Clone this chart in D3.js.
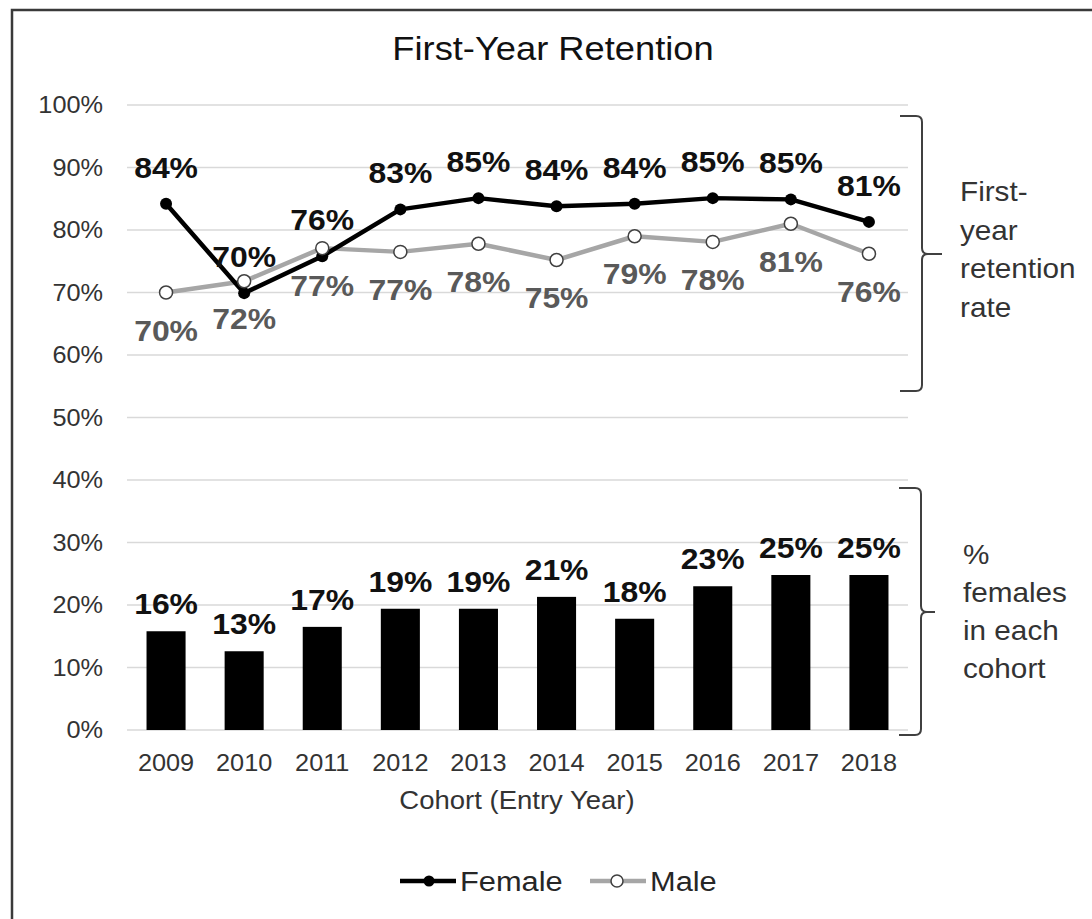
<!DOCTYPE html>
<html><head><meta charset="utf-8">
<script src="https://cdn.jsdelivr.net/npm/d3@7"></script>
<style>body{margin:0;background:#fff}svg{display:block}text{font-family:"Liberation Sans",Arial,sans-serif}</style>
</head><body>
<svg id="c" width="1092" height="919"></svg>
<script>
const years = ["2009","2010","2011","2012","2013","2014","2015","2016","2017","2018"];
const femaleRetention = [84.2, 69.9, 75.8, 83.3, 85.1, 83.8, 84.2, 85.1, 84.9, 81.3];
const maleRetention   = [70.0, 71.8, 77.1, 76.5, 77.8, 75.2, 79.0, 78.1, 81.0, 76.2];
const femaleShare     = [15.8, 12.6, 16.5, 19.4, 19.4, 21.3, 17.8, 23.0, 24.8, 24.8];
const yTicks = [0,10,20,30,40,50,60,70,80,90,100];
const legendItems = ["Female","Male"];

const SX = 1.1;
const svg = d3.select("#c");
const x = d3.scaleBand().domain(years).range([127, 908]).paddingInner(0.5).paddingOuter(0.25);
const xc = d => x(d) + x.bandwidth()/2;
const y = d3.scaleLinear().domain([0,100]).range([730, 105]);

function txt(px, py, s, o) {
  o = o || {};
  return svg.append("text")
    .attr("transform", `translate(${px},${py}) scale(${SX},1)`)
    .attr("text-anchor", o.anchor || "middle")
    .attr("font-size", o.size || 23)
    .attr("font-weight", o.weight || "normal")
    .attr("fill", o.fill || "#262626")
    .text(s);
}

// border
svg.append("rect").attr("x",12).attr("y",10).attr("width",1200).attr("height",1000)
  .attr("fill","none").attr("stroke","#3a3a3a").attr("stroke-width",2.5);

// gridlines
svg.append("g").selectAll("line").data(yTicks).join("line")
  .attr("x1",127).attr("x2",908).attr("y1",d=>y(d)).attr("y2",d=>y(d))
  .attr("stroke","#d9d9d9").attr("stroke-width",1.5);

// y tick labels
yTicks.forEach(d => txt(103, y(d)+8, d+"%", {anchor:"end", size:23, fill:"#333"}));

// title
txt(553, 60, "First-Year Retention", {size:33, fill:"#111"});

// bars
svg.append("g").selectAll("rect").data(femaleShare).join("rect")
  .attr("x",(d,i)=>x(years[i])).attr("width",x.bandwidth())
  .attr("y",d=>y(d)).attr("height",d=>y(0)-y(d)).attr("fill","#000");
femaleShare.forEach((d,i)=>txt(xc(years[i]), y(d)-17, Math.round(d)+"%", {size:29, weight:"bold", fill:"#111"}));

// x labels
years.forEach(d=>txt(xc(d), 771, d, {size:23, fill:"#333"}));
txt(517, 809, "Cohort (Entry Year)", {size:25, fill:"#333"});

// lines
const line = d3.line().x((d,i)=>xc(years[i])).y(d=>y(d));
svg.append("path").datum(maleRetention).attr("d",line).attr("fill","none")
  .attr("stroke","#a6a6a6").attr("stroke-width",4.5).attr("stroke-linejoin","round");
svg.append("path").datum(femaleRetention).attr("d",line).attr("fill","none")
  .attr("stroke","#000").attr("stroke-width",4.5).attr("stroke-linejoin","round");
svg.append("g").selectAll("circle").data(femaleRetention).join("circle")
  .attr("cx",(d,i)=>xc(years[i])).attr("cy",d=>y(d)).attr("r",6).attr("fill","#000");
svg.append("g").selectAll("circle").data(maleRetention).join("circle")
  .attr("cx",(d,i)=>xc(years[i])).attr("cy",d=>y(d)).attr("r",6.5)
  .attr("fill","#fff").attr("stroke","#404040").attr("stroke-width",1.5);

femaleRetention.forEach((d,i)=>txt(xc(years[i]), y(d)-26, Math.round(d)+"%", {size:29, weight:"bold", fill:"#111"}));
maleRetention.forEach((d,i)=>txt(xc(years[i]), y(d)+48, Math.round(d)+"%", {size:29, weight:"bold", fill:"#595959"}));

// brackets
function bracket(top, bot, mid, xv, tip) {
  const r = 6;
  const p = d3.path();
  p.moveTo(xv-22, top);
  p.lineTo(xv-r, top);
  p.quadraticCurveTo(xv, top, xv, top+r);
  p.lineTo(xv, mid-r);
  p.quadraticCurveTo(xv, mid, xv+r, mid);
  p.lineTo(tip, mid);
  p.moveTo(xv+r, mid);
  p.quadraticCurveTo(xv, mid, xv, mid+r);
  p.lineTo(xv, bot-r);
  p.quadraticCurveTo(xv, bot, xv-r, bot);
  p.lineTo(xv-22, bot);
  svg.append("path").attr("d", p.toString()).attr("fill","none").attr("stroke","#404040").attr("stroke-width",2);
}
bracket(116, 391, 254, 922, 942);
bracket(488, 735, 612, 921, 935);

["First-","year","retention","rate"].forEach((s,i)=>txt(960, 201+i*38.5, s, {anchor:"start", size:27, fill:"#333"}));
["%","females","in each","cohort"].forEach((s,i)=>txt(963, 564+i*38, s, {anchor:"start", size:27, fill:"#333"}));

// legend
const lg = svg.append("g");
lg.append("line").attr("x1",400).attr("x2",456).attr("y1",881).attr("y2",881).attr("stroke","#000").attr("stroke-width",4.5);
lg.append("circle").attr("cx",429).attr("cy",881).attr("r",5.5).attr("fill","#000");
txt(460, 891, legendItems[0], {anchor:"start", size:28, fill:"#262626"});
lg.append("line").attr("x1",590).attr("x2",646).attr("y1",881).attr("y2",881).attr("stroke","#a6a6a6").attr("stroke-width",4.5);
lg.append("circle").attr("cx",617).attr("cy",881).attr("r",6).attr("fill","#fff").attr("stroke","#404040").attr("stroke-width",1.5);
txt(650, 891, legendItems[1], {anchor:"start", size:28, fill:"#262626"});
</script>
</body></html>
